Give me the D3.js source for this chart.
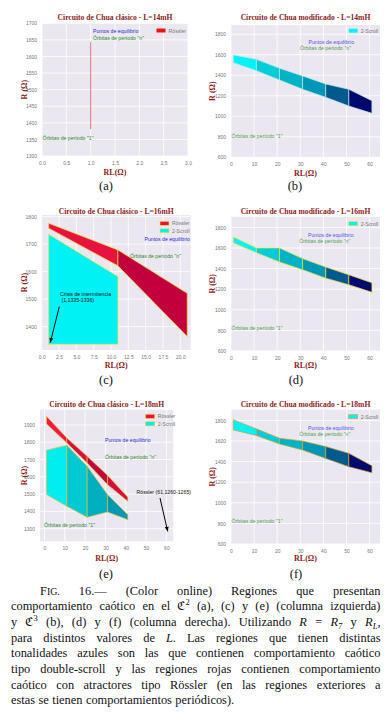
<!DOCTYPE html>
<html>
<head>
<meta charset="utf-8">
<script src="https://cdn.jsdelivr.net/npm/d3@7"></script>
<style>
  body { margin: 0; background: #fff; }
  svg { display: block; }
</style>
</head>
<body>
<svg id="fig" width="392" height="717"></svg>
<script>
// ---- data ----
// (a) classic circuit, L = 14mH : a single Rossler segment at RL = 1
const aRL = [1.0, 1.0];
const aRossler = [1381, 1643];

// (c) classic circuit, L = 16mH
const cRL = [1, 11, 21];
const cRosslerTop = [1776, 1679, 1521];
const cRosslerBottom = [1758, 1621, 1364];
const cScrollRL = [1, 11];
const cScrollTop = [1736, 1582];
const cScrollBottom = [1336, 1336];

// (e) classic circuit, L = 18mH
const eRL = [1, 11, 21, 31, 41];
const eRosslerTop = [1950, 1825, 1719, 1609, 1482];
const eRosslerBottom = [1906, 1796, 1680, 1555, 1458];
const eScrollTop = [1754, 1782, 1661, 1497, 1381];
const eScrollBottom = [1497, 1430, 1366, 1397, 1352];

// (b), (d), (f) modified circuit, 2-scroll bands
const modRL = [1, 11, 21, 31, 41, 51, 61];
const bTop = [1598, 1556, 1468, 1393, 1315, 1263, 1152];
const bBottom = [1523, 1445, 1354, 1263, 1185, 1100, 1029];
const dTop = [1708, 1600, 1600, 1497, 1415, 1340, 1262];
const dBottom = [1650, 1555, 1464, 1389, 1307, 1243, 1170];
const fTop = [1806, 1718, 1627, 1600, 1546, 1480, 1360];
const fBottom = [1708, 1653, 1571, 1512, 1431, 1350, 1291];

const blues = ['#00f4f6', '#00cdd8', '#00b4c6', '#0096b6', '#005a8e', '#000a6e'];
const redsC = ['#e8123e', '#c2003c'];
const redsE = ['#ee1a44', '#d80f40', '#c2063c', '#d0103e'];
const cyansE = ['#00eef0', '#00c9d2', '#00aec2', '#0098b4'];

const ticks14 = [1300, 1350, 1400, 1450, 1500, 1550, 1600, 1650, 1700];
const ticksMod = [600, 800, 1000, 1200, 1400, 1600, 1800];
const ticks16 = [1400, 1500, 1600, 1700, 1800];
const ticks18 = [1300, 1400, 1500, 1600, 1700, 1800, 1900];
const rlTicksA = [0, 0.5, 1, 1.5, 2, 2.5, 3];
const rlTicksC = [0, 2.5, 5, 7.5, 10, 12.5, 15, 17.5, 20];
const rlTicks60 = [0, 10, 20, 30, 40, 50, 60];

const captionLines = [
  'F{IG.} 16.— (Color online) Regiones que presentan',
  'comportamiento caótico en el ℭ^2 (a), (c) y (e) (columna izquierda)',
  'y ℭ^3 (b), (d) y (f) (columna derecha). Utilizando *R* = *R*_7 y *R*_L,',
  'para distintos valores de *L*. Las regiones que tienen distintas',
  'tonalidades azules son las que contienen comportamiento caótico',
  'tipo double-scroll y las regiones rojas contienen comportamiento',
  'caótico con atractores tipo Rössler (en las regiones exteriores a',
  'estas se tienen comportamientos periódicos).'
];

// ---- drawing ----
const svg = d3.select('#fig');
const sans = 'Liberation Sans, Arial, sans-serif';
const serif = 'Liberation Serif, Times New Roman, serif';

svg.append('defs').append('marker')
  .attr('id', 'arrow')
  .attr('viewBox', '0 0 10 10')
  .attr('refX', 9).attr('refY', 5)
  .attr('markerWidth', 5).attr('markerHeight', 5)
  .attr('orient', 'auto')
  .append('path').attr('d', 'M0,1 L10,5 L0,9 Z').attr('fill', '#000');

function panel(p) {
  const x = d3.scaleLinear().domain(p.xDomain).range([p.x0, p.x1]);
  const y = d3.scaleLinear().domain(p.yDomain).range([p.y1, p.y0]);
  const g = svg.append('g');

  g.append('rect')
    .attr('x', p.x0).attr('y', p.y0)
    .attr('width', p.x1 - p.x0).attr('height', p.y1 - p.y0)
    .attr('fill', '#ebe7f1');

  g.selectAll('.gx').data(p.xTicks).join('line')
    .attr('x1', d => x(d)).attr('x2', d => x(d))
    .attr('y1', p.y0).attr('y2', p.y1)
    .attr('stroke', '#fff').attr('stroke-width', 0.8);
  g.selectAll('.gy').data(p.yTicks).join('line')
    .attr('x1', p.x0).attr('x2', p.x1)
    .attr('y1', d => y(d)).attr('y2', d => y(d))
    .attr('stroke', '#fff').attr('stroke-width', 0.8);

  const ax = g.append('g').attr('transform', `translate(0,${p.y1})`)
    .call(d3.axisBottom(x).tickValues(p.xTicks).tickFormat(d3.format(p.xFmt)).tickSize(0).tickPadding(5));
  const ay = g.append('g').attr('transform', `translate(${p.x0},0)`)
    .call(d3.axisLeft(y).tickValues(p.yTicks).tickFormat(d3.format('d')).tickSize(0).tickPadding(5));
  [ax, ay].forEach(a => {
    a.select('.domain').remove();
    a.selectAll('text').attr('font-family', sans).attr('font-size', 5).attr('fill', '#777');
  });

  const cx = (p.x0 + p.x1) / 2;
  g.append('text').attr('x', cx).attr('y', p.titleY)
    .attr('text-anchor', 'middle').attr('font-family', serif)
    .attr('font-weight', 'bold').attr('font-size', 7.6).attr('fill', '#8b1c1c')
    .text(p.title);
  g.append('text').attr('x', cx).attr('y', p.xLabelY)
    .attr('text-anchor', 'middle').attr('font-family', serif)
    .attr('font-weight', 'bold').attr('font-size', 8).attr('fill', '#8b1c1c')
    .text('RL(Ω)');
  g.append('text')
    .attr('transform', `translate(${p.yLabelX},${(p.y0 + p.y1) / 2}) rotate(-90)`)
    .attr('text-anchor', 'middle').attr('dy', '0.35em').attr('font-family', serif)
    .attr('font-weight', 'bold').attr('font-size', 8).attr('fill', '#8b1c1c')
    .text('R (Ω)');
  g.append('text').attr('x', p.letterX).attr('y', p.letterY)
    .attr('text-anchor', 'middle').attr('font-family', serif)
    .attr('font-size', 12.5).attr('fill', '#111')
    .text(p.letter);

  return { g, x, y };
}

function band(ctx, rl, top, bottom, colors, stroke) {
  const line = d3.line().x(d => ctx.x(d[0])).y(d => ctx.y(d[1]));
  const segs = d3.range(rl.length - 1).map(i => [
    [rl[i], top[i]], [rl[i + 1], top[i + 1]],
    [rl[i + 1], bottom[i + 1]], [rl[i], bottom[i]]
  ]);
  ctx.g.append('g').selectAll('path').data(segs).join('path')
    .attr('d', d => line(d) + 'Z')
    .attr('fill', (d, i) => colors[i % colors.length])
    .attr('stroke', stroke).attr('stroke-width', 0.7)
    .attr('stroke-linejoin', 'round');
}

function label(ctx, txt, px, py, color, anchor) {
  ctx.g.append('text').attr('x', px).attr('y', py)
    .attr('text-anchor', anchor || 'start')
    .attr('font-family', sans).attr('font-size', 5.2).attr('fill', color)
    .text(txt);
}

function legend(ctx, items, px, py, stroke) {
  items.forEach((it, i) => {
    ctx.g.append('rect').attr('x', px).attr('y', py + i * 7.5 - 2)
      .attr('width', 9).attr('height', 4).attr('fill', it[1])
      .attr('stroke', stroke || 'none').attr('stroke-width', 0.6);
    label(ctx, it[0], px + 12, py + i * 7.5 + 2, '#777');
  });
}

function arrow(ctx, x1, y1, x2, y2) {
  ctx.g.append('line').attr('x1', x1).attr('y1', y1).attr('x2', x2).attr('y2', y2)
    .attr('stroke', '#000').attr('stroke-width', 1).attr('marker-end', 'url(#arrow)');
}

const blueTxt = '#2a2ad0', greenTxt = '#2a8a2a';
const blueTxt2 = '#5555e0', greenTxt2 = '#4f9f4f';

// (a)
const pa = panel({ x0: 42, x1: 188, y0: 23.3, y1: 156, xDomain: [0, 3], yDomain: [1300, 1700],
  xTicks: rlTicksA, yTicks: ticks14, xFmt: '.1f', title: 'Circuito de Chua clásico - L=14mH',
  titleY: 20, xLabelY: 175, yLabelX: 24, letter: '(a)', letterX: 106, letterY: 190 });
pa.g.append('line')
  .attr('x1', pa.x(aRL[0])).attr('x2', pa.x(aRL[1]))
  .attr('y1', pa.y(aRossler[0])).attr('y2', pa.y(aRossler[1]))
  .attr('stroke', '#e0707e').attr('stroke-width', 1);
legend(pa, [['Rössler', '#ee1111']], 156.5, 30.5);
label(pa, 'Puntos de equilibrio', 93, 33, blueTxt);
label(pa, 'Órbitas de período "n"', 93, 40, greenTxt);
label(pa, 'Órbitas de período "1"', 42.5, 139.5, greenTxt);

// (b)
const pb = panel({ x0: 231, x1: 380, y0: 25, y1: 157.3, xDomain: [0, 64.5], yDomain: [600, 1890],
  xTicks: rlTicks60, yTicks: ticksMod, xFmt: 'd', title: 'Circuito de Chua modificado - L=14mH',
  titleY: 20, xLabelY: 175.5, yLabelX: 212, letter: '(b)', letterX: 295, letterY: 190 });
band(pb, modRL, bTop, bBottom, blues, '#b8e8ee');
legend(pb, [['2-Scroll', '#00f4f6']], 348.7, 30.7);
label(pb, 'Puntos de equilibrio', 308.5, 44.3, blueTxt2);
label(pb, 'Órbitas de período "n"', 300, 50.3, greenTxt2);
label(pb, 'Órbitas de período "1"', 231.5, 137.7, greenTxt2);

// (c)
const pc = panel({ x0: 41.7, x1: 190.7, y0: 215, y1: 350, xDomain: [0, 21.5], yDomain: [1315, 1806],
  xTicks: rlTicksC, yTicks: ticks16, xFmt: '.1f', title: 'Circuito de Chua clásico - L=16mH',
  titleY: 213.5, xLabelY: 368, yLabelX: 24, letter: '(c)', letterX: 106, letterY: 383.5 });
band(pc, cScrollRL, cScrollTop, cScrollBottom, ['#00f2f4'], '#e8e840');
band(pc, cRL, cRosslerTop, cRosslerBottom, redsC, '#f0e040');
legend(pc, [['Rössler', '#ee1133'], ['2-Scroll', '#00f0f0']], 160, 223.3, '#e8e840');
label(pc, 'Puntos de equilibrio', 190, 241, blueTxt, 'end');
label(pc, 'Órbitas de período "n"', 130, 258, greenTxt);
label(pc, 'Crisis de intermitencia', 60, 296, '#111');
label(pc, '(1,1335-1336)', 61.5, 302, '#111');
arrow(pc, 59.3, 306.7, 50.3, 342.5);

// (d)
const pd = panel({ x0: 231, x1: 380, y0: 216.7, y1: 351, xDomain: [0, 64.5], yDomain: [600, 1904],
  xTicks: rlTicks60, yTicks: ticksMod, xFmt: 'd', title: 'Circuito de Chua modificado - L=16mH',
  titleY: 213.5, xLabelY: 368, yLabelX: 212, letter: '(d)', letterX: 296, letterY: 383.5 });
band(pd, modRL, dTop, dBottom, blues, '#e6e43a');
legend(pd, [['2-Scroll', '#00f4f6']], 348.7, 223.7, '#e6e43a');
label(pd, 'Puntos de equilibrio', 308, 237, blueTxt2);
label(pd, 'Órbitas de período "n"', 299.3, 242.5, greenTxt2);
label(pd, 'Órbitas de período "1"', 231.5, 329.5, greenTxt2);

// (e)
const pe = panel({ x0: 40, x1: 173.3, y0: 409.7, y1: 541.3, xDomain: [-2.2, 63.4], yDomain: [1227, 1988],
  xTicks: rlTicks60, yTicks: ticks18, xFmt: 'd', title: 'Circuito de Chua clásico - L=18mH',
  titleY: 406.5, xLabelY: 561, yLabelX: 24, letter: '(e)', letterX: 106, letterY: 577.5 });
band(pe, eRL, eScrollTop, eScrollBottom, cyansE, '#d8c040');
band(pe, eRL, eRosslerTop, eRosslerBottom, redsE, '#e8c840');
legend(pe, [['Rössler', '#ee1133'], ['2-Scroll', '#00f0f0']], 145.7, 416.3, '#e0c840');
label(pe, 'Puntos de equilibrio', 105, 441.5, blueTxt);
label(pe, 'Órbitas de período "n"', 105, 459, greenTxt);
label(pe, 'Órbitas de período "1"', 44, 526.7, greenTxt);
label(pe, 'Rössler (61,1260-1265)', 136.5, 494, '#111');
arrow(pe, 160, 498, 167.7, 531.3);

// (f)
const pf = panel({ x0: 231, x1: 380, y0: 409.7, y1: 544, xDomain: [0, 64.5], yDomain: [600, 1904],
  xTicks: rlTicks60, yTicks: ticksMod, xFmt: 'd', title: 'Circuito de Chua modificado - L=18mH',
  titleY: 406.5, xLabelY: 561, yLabelX: 212, letter: '(f)', letterX: 296, letterY: 577.5 });
band(pf, modRL, fTop, fBottom, blues, '#d8a030');
legend(pf, [['2-Scroll', '#00f4f6']], 348.7, 416.7, '#d8a030');
label(pf, 'Puntos de equilibrio', 308, 430, blueTxt2);
label(pf, 'Órbitas de período "n"', 299.3, 435.5, greenTxt2);
label(pf, 'Órbitas de período "1"', 231.5, 522.5, greenTxt2);

// ---- caption, justified word by word ----
const capSize = 12.4;
const cap = svg.append('g')
  .attr('font-family', 'Liberation Serif, DejaVu Serif, serif')
  .attr('font-size', capSize).attr('fill', '#111');

// tiny markup: *x* italic, ^x superscript, _x subscript, {x} small caps
function addWord(parent, w) {
  const t = parent.append('text');
  w.split(/(\*[^*]+\*|\^\w|_\w|\{[^}]+\})/).filter(s => s).forEach(s => {
    if (s[0] === '*') t.append('tspan').attr('font-style', 'italic').text(s.slice(1, -1));
    else if (s[0] === '{') t.append('tspan').attr('font-size', capSize * 0.8).text(s.slice(1, -1));
    else if (s[0] === '^') t.append('tspan').attr('font-size', 8.5).attr('baseline-shift', 4.8).text(s.slice(1));
    else if (s[0] === '_') t.append('tspan').attr('font-size', 8.5).attr('font-style', 'italic')
      .attr('baseline-shift', -2.6).text(s.slice(1));
    else t.append('tspan').text(s);
  });
  return t;
}

const capLeft = 11, capRight = 380.5;
captionLines.forEach((ln, li) => {
  const yy = 594.5 + li * 15.7;
  const left = li === 0 ? 40 : capLeft;
  const words = ln.split(' ').map(w => addWord(cap, w).attr('y', yy));
  const widths = words.map(t => t.node().getComputedTextLength());
  const total = d3.sum(widths);
  const last = li === captionLines.length - 1;
  const gap = last ? 3.4 : (capRight - left - total) / (words.length - 1);
  let xx = left;
  words.forEach((t, i) => { t.attr('x', xx); xx += widths[i] + gap; });
});
</script>
</body>
</html>
